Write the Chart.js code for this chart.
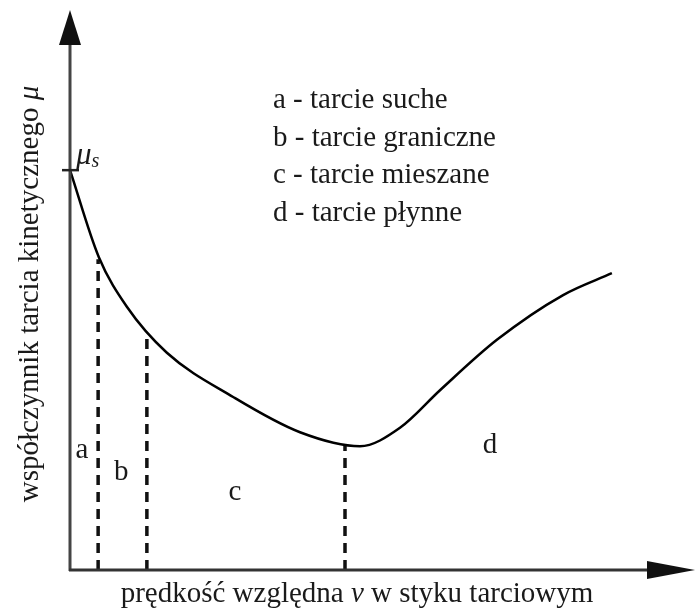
<!DOCTYPE html>
<html>
<head>
<meta charset="utf-8">
<script src="https://cdn.jsdelivr.net/npm/chart.js@4"></script>
<style>
  body { margin: 0; background: #fff; }
</style>
</head>
<body>
<canvas id="myChart" width="695" height="613"></canvas>
<script>
// Stribeck curve: relative velocity v (arbitrary units) vs kinetic friction coefficient mu
const velocity = [0, 0.46, 0.91, 1.55, 2.61, 3.68, 4.64, 5.28, 5.92, 6.83, 7.89, 8.67]
const friction = [0.714, 0.559, 0.470, 0.388, 0.309, 0.246, 0.221, 0.254, 0.321, 0.411, 0.491, 0.530]

// static friction coefficient
const muStatic = 0.714

// borders between the friction regimes
const boundaryV = [0.45, 1.23, 4.4]
const boundaryMu = [0.555, 0.425, 0.222]

const regimes = ['a', 'b', 'c', 'd']
const regimeNames = ['tarcie suche', 'tarcie graniczne', 'tarcie mieszane', 'tarcie płynne']

const SERIF = '"Liberation Serif", "Times New Roman", serif'
const ctx = document.getElementById('myChart').getContext('2d')

const curve = velocity.map((v, i) => ({ x: v, y: friction[i] }))

const dashed = boundaryV.map((v, i) => ({
    data: [{ x: v, y: 0 }, { x: v, y: boundaryMu[i] }],
    borderColor: '#111',
    borderWidth: 3.5,
    borderDash: [10, 7],
    pointRadius: 0,
    tension: 0
}))

// draws text pieces one after another, each with its own font
function drawRuns(c, runs, x, y, align) {
    let total = 0
    runs.forEach(r => { c.font = r.font; total += c.measureText(r.text).width })
    let cx = align === 'center' ? x - total / 2 : x
    c.textAlign = 'left'
    runs.forEach(r => {
        c.font = r.font
        c.fillText(r.text, cx, y + (r.dy || 0))
        cx += c.measureText(r.text).width
    })
}

// where the regime letters sit, in data units
const letterAt = {
    a: [0.19, 0.2],
    b: [0.82, 0.161],
    c: [2.64, 0.125],
    d: [6.72, 0.209]
}

const decorations = {
    id: 'decorations',
    afterDraw(chart) {
        const c = chart.ctx
        const xs = chart.scales.x
        const ys = chart.scales.y
        const x0 = xs.getPixelForValue(0)
        const y0 = ys.getPixelForValue(0)
        const top = ys.getPixelForValue(1)
        const right = xs.getPixelForValue(10)

        c.save()
        // axes with arrow heads
        c.strokeStyle = '#444'
        c.fillStyle = '#111'
        c.lineWidth = 3
        c.beginPath()
        c.moveTo(x0, y0 + 1)
        c.lineTo(x0, top + 30)
        c.stroke()
        c.beginPath()
        c.moveTo(x0 - 11, top + 35)
        c.lineTo(x0, top)
        c.lineTo(x0 + 11, top + 35)
        c.closePath()
        c.fill()

        c.strokeStyle = '#333'
        c.beginPath()
        c.moveTo(x0 - 1, y0)
        c.lineTo(right - 44, y0)
        c.stroke()
        c.beginPath()
        c.moveTo(right - 48, y0 - 9)
        c.lineTo(right, y0)
        c.lineTo(right - 48, y0 + 9)
        c.closePath()
        c.fill()

        // mu_s tick
        const ys0 = ys.getPixelForValue(muStatic)
        c.strokeStyle = '#222'
        c.lineWidth = 2.5
        c.beginPath()
        c.moveTo(x0 - 8, ys0)
        c.lineTo(x0 + 9, ys0)
        c.stroke()

        c.fillStyle = '#1a1a1a'
        c.textBaseline = 'alphabetic'
        drawRuns(c, [
            { text: 'μ', font: 'italic 31px ' + SERIF },
            { text: 's', font: 'italic 20px ' + SERIF, dy: 3 }
        ], x0 + 6, ys0 - 6, 'left')

        // legend of regimes
        c.font = '29px ' + SERIF
        regimes.forEach((r, i) => {
            c.textAlign = 'left'
            c.fillText(r + ' - ' + regimeNames[i], 273, 108 + i * 37.5)
        })

        // regime letters
        c.textAlign = 'center'
        regimes.forEach(r => {
            const p = letterAt[r]
            c.fillText(r, xs.getPixelForValue(p[0]), ys.getPixelForValue(p[1]))
        })

        // axis titles
        drawRuns(c, [
            { text: 'prędkość względna ', font: '29px ' + SERIF },
            { text: 'v', font: 'italic 29px ' + SERIF },
            { text: ' w styku tarciowym', font: '29px ' + SERIF }
        ], 357, 602, 'center')

        c.translate(38, 294)
        c.rotate(-Math.PI / 2)
        drawRuns(c, [
            { text: 'współczynnik tarcia kinetycznego ', font: '29px ' + SERIF },
            { text: 'μ', font: 'italic 29px ' + SERIF }
        ], 0, 0, 'center')
        c.restore()
    }
}

const myChart = new Chart(ctx, {
    type: 'line',
    data: {
        datasets: [{
            data: curve,
            borderColor: '#000',
            borderWidth: 2.5,
            pointRadius: 0,
            cubicInterpolationMode: 'monotone'
        }, ...dashed]
    },
    options: {
        responsive: false,
        animation: false,
        clip: false,
        layout: { padding: { left: 70, right: 0, top: 10, bottom: 43 } },
        plugins: {
            legend: { display: false },
            tooltip: { enabled: false }
        },
        scales: {
            x: { type: 'linear', min: 0, max: 10, display: false },
            y: { type: 'linear', min: 0, max: 1, display: false }
        }
    },
    plugins: [decorations]
})
</script>
</body>
</html>
